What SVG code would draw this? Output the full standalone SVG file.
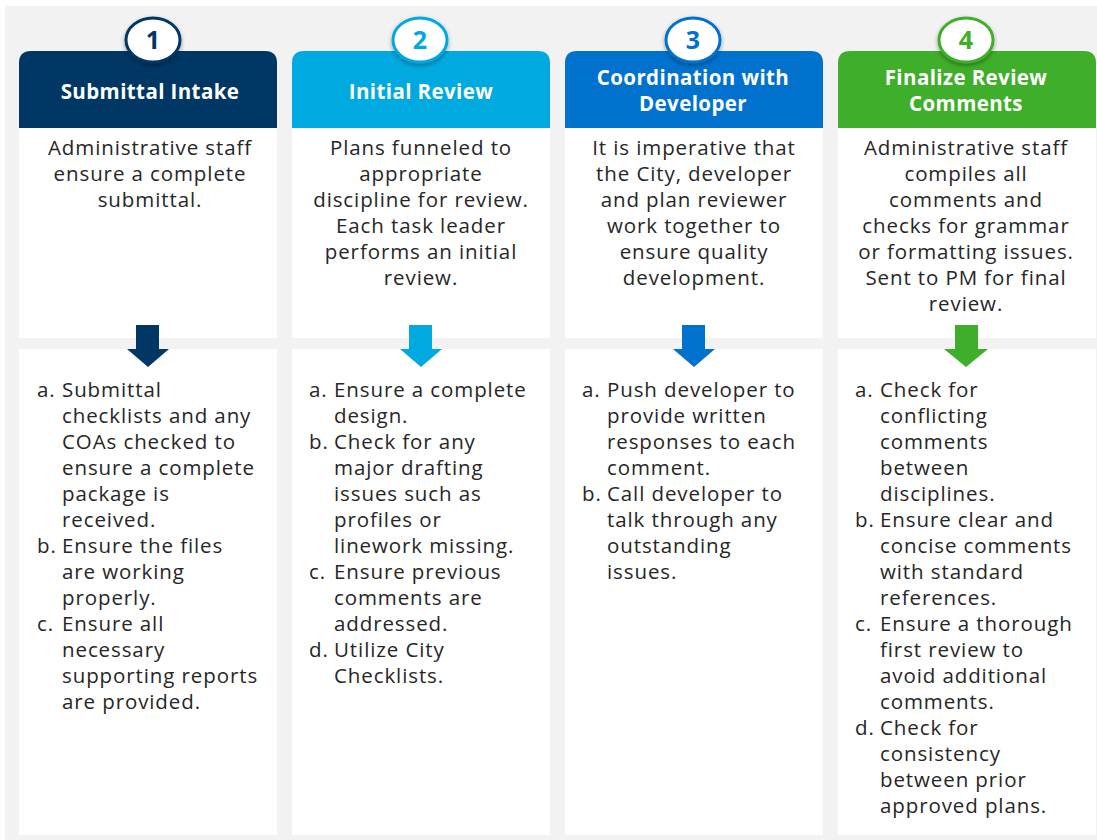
<svg xmlns="http://www.w3.org/2000/svg" width="1097" height="840" viewBox="0 0 1097 840">
<defs>
<style>
.hd{font-family:"Open Sans","Liberation Sans",sans-serif;font-weight:bold;font-size:20.5px;fill:#fff;text-anchor:middle;letter-spacing:0.4px}
.num{font-family:"Open Sans","Liberation Sans",sans-serif;font-weight:bold;font-size:25px;text-anchor:middle}
.tx{font-family:"Open Sans","Liberation Sans",sans-serif;font-size:20.5px;fill:#262626;letter-spacing:0.9px}
.ct{text-anchor:middle}
.panel{fill:#fff}
</style>
<filter id="sh" x="-30%" y="-30%" width="160%" height="170%">
<feDropShadow dx="0" dy="2" stdDeviation="2" flood-color="#000" flood-opacity="0.35"/>
</filter>
</defs>
<rect x="0" y="0" width="1097" height="840" fill="#fff"/>
<rect x="5" y="6" width="1092" height="834" fill="#f2f2f2"/>

<g id="step1">
<path d="M19,128 V63 Q19,51 31,51 H265 Q277,51 277,63 V128 Z" fill="#003764"/>
<rect class="panel" x="19" y="128" width="258" height="210"/>
<rect class="panel" x="19" y="349" width="258" height="486"/>
<ellipse cx="153" cy="40" rx="27" ry="22" fill="#fff" stroke="#003764" stroke-width="3" filter="url(#sh)"/>
<text class="num" x="153" y="49" fill="#003764">1</text>
<text class="hd" x="150" y="99">Submittal Intake</text>
<text class="tx ct"><tspan x="150" y="155">Administrative staff</tspan><tspan x="150" y="181">ensure a complete</tspan><tspan x="150" y="207">submittal.</tspan></text>
<path d="M136,325 H159 V349 H169 L148,367 L127,349 H136 Z" fill="#003764"/>
<text class="tx">
<tspan x="37" y="397">a.</tspan><tspan x="62" y="397">Submittal</tspan>
<tspan x="62" y="423">checklists and any</tspan>
<tspan x="62" y="449">COAs checked to</tspan>
<tspan x="62" y="475">ensure a complete</tspan>
<tspan x="62" y="501">package is</tspan>
<tspan x="62" y="527">received.</tspan>
<tspan x="37" y="553">b.</tspan><tspan x="62" y="553">Ensure the files</tspan>
<tspan x="62" y="579">are working</tspan>
<tspan x="62" y="605">properly.</tspan>
<tspan x="37" y="631">c.</tspan><tspan x="62" y="631">Ensure all</tspan>
<tspan x="62" y="657">necessary</tspan>
<tspan x="62" y="683">supporting reports</tspan>
<tspan x="62" y="709">are provided.</tspan>
</text>
</g>

<g id="step2">
<path d="M292,128 V63 Q292,51 304,51 H538 Q550,51 550,63 V128 Z" fill="#00a9e0"/>
<rect class="panel" x="292" y="128" width="258" height="210"/>
<rect class="panel" x="292" y="349" width="258" height="486"/>
<ellipse cx="420" cy="40" rx="27" ry="22" fill="#fff" stroke="#00a9e0" stroke-width="3" filter="url(#sh)"/>
<text class="num" x="420" y="49" fill="#00a9e0">2</text>
<text class="hd" x="421" y="99">Initial Review</text>
<text class="tx ct"><tspan x="421" y="155">Plans funneled to</tspan><tspan x="421" y="181">appropriate</tspan><tspan x="421" y="207">discipline for review.</tspan><tspan x="421" y="233">Each task leader</tspan><tspan x="421" y="259">performs an initial</tspan><tspan x="421" y="285">review.</tspan></text>
<path d="M409,325 H432 V349 H442 L421,367 L400,349 H409 Z" fill="#00a9e0"/>
<text class="tx">
<tspan x="309" y="397">a.</tspan><tspan x="334" y="397">Ensure a complete</tspan>
<tspan x="334" y="423">design.</tspan>
<tspan x="309" y="449">b.</tspan><tspan x="334" y="449">Check for any</tspan>
<tspan x="334" y="475">major drafting</tspan>
<tspan x="334" y="501">issues such as</tspan>
<tspan x="334" y="527">profiles or</tspan>
<tspan x="334" y="553">linework missing.</tspan>
<tspan x="309" y="579">c.</tspan><tspan x="334" y="579">Ensure previous</tspan>
<tspan x="334" y="605">comments are</tspan>
<tspan x="334" y="631">addressed.</tspan>
<tspan x="309" y="657">d.</tspan><tspan x="334" y="657">Utilize City</tspan>
<tspan x="334" y="683">Checklists.</tspan>
</text>
</g>

<g id="step3">
<path d="M565,128 V63 Q565,51 577,51 H811 Q823,51 823,63 V128 Z" fill="#0072ce"/>
<rect class="panel" x="565" y="128" width="258" height="210"/>
<rect class="panel" x="565" y="349" width="258" height="486"/>
<ellipse cx="693" cy="40" rx="27" ry="22" fill="#fff" stroke="#0072ce" stroke-width="3" filter="url(#sh)"/>
<text class="num" x="693" y="49" fill="#0072ce">3</text>
<text class="hd" x="693" y="85">Coordination with</text>
<text class="hd" x="693" y="111">Developer</text>
<text class="tx ct"><tspan x="694" y="155">It is imperative that</tspan><tspan x="694" y="181">the City, developer</tspan><tspan x="694" y="207">and plan reviewer</tspan><tspan x="694" y="233">work together to</tspan><tspan x="694" y="259">ensure quality</tspan><tspan x="694" y="285">development.</tspan></text>
<path d="M682,325 H705 V349 H715 L694,367 L673,349 H682 Z" fill="#0072ce"/>
<text class="tx">
<tspan x="582" y="397">a.</tspan><tspan x="607" y="397">Push developer to</tspan>
<tspan x="607" y="423">provide written</tspan>
<tspan x="607" y="449">responses to each</tspan>
<tspan x="607" y="475">comment.</tspan>
<tspan x="582" y="501">b.</tspan><tspan x="607" y="501">Call developer to</tspan>
<tspan x="607" y="527">talk through any</tspan>
<tspan x="607" y="553">outstanding</tspan>
<tspan x="607" y="579">issues.</tspan>
</text>
</g>

<g id="step4">
<path d="M838,128 V63 Q838,51 850,51 H1084 Q1096,51 1096,63 V128 Z" fill="#3fae2a"/>
<rect class="panel" x="838" y="128" width="258" height="210"/>
<rect class="panel" x="838" y="349" width="258" height="486"/>
<ellipse cx="966" cy="40" rx="27" ry="22" fill="#fff" stroke="#3fae2a" stroke-width="3" filter="url(#sh)"/>
<text class="num" x="966" y="49" fill="#3fae2a">4</text>
<text class="hd" x="966" y="85">Finalize Review</text>
<text class="hd" x="966" y="111">Comments</text>
<text class="tx ct"><tspan x="966" y="155">Administrative staff</tspan><tspan x="966" y="181">compiles all</tspan><tspan x="966" y="207">comments and</tspan><tspan x="966" y="233">checks for grammar</tspan><tspan x="966" y="259">or formatting issues.</tspan><tspan x="966" y="285">Sent to PM for final</tspan><tspan x="966" y="311">review.</tspan></text>
<path d="M955,325 H978 V349 H988 L966,367 L944,349 H955 Z" fill="#3fae2a"/>
<text class="tx">
<tspan x="855" y="397">a.</tspan><tspan x="880" y="397">Check for</tspan>
<tspan x="880" y="423">conflicting</tspan>
<tspan x="880" y="449">comments</tspan>
<tspan x="880" y="475">between</tspan>
<tspan x="880" y="501">disciplines.</tspan>
<tspan x="855" y="527">b.</tspan><tspan x="880" y="527">Ensure clear and</tspan>
<tspan x="880" y="553">concise comments</tspan>
<tspan x="880" y="579">with standard</tspan>
<tspan x="880" y="605">references.</tspan>
<tspan x="855" y="631">c.</tspan><tspan x="880" y="631">Ensure a thorough</tspan>
<tspan x="880" y="657">first review to</tspan>
<tspan x="880" y="683">avoid additional</tspan>
<tspan x="880" y="709">comments.</tspan>
<tspan x="855" y="735">d.</tspan><tspan x="880" y="735">Check for</tspan>
<tspan x="880" y="761">consistency</tspan>
<tspan x="880" y="787">between prior</tspan>
<tspan x="880" y="813">approved plans.</tspan>
</text>
</g>

<g id="connectors"></g>
</svg>
